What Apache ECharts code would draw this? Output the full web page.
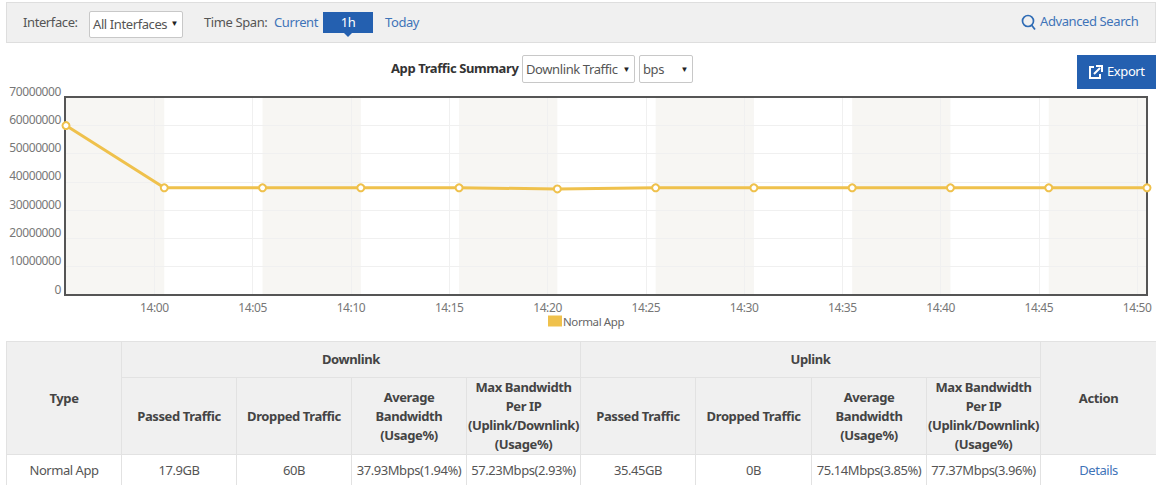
<!DOCTYPE html>
<html><head><meta charset="utf-8">
<script src="https://cdn.jsdelivr.net/npm/echarts@6/dist/echarts.min.js"></script>
<style>
html,body{margin:0;padding:0;background:#fff;overflow:hidden}
body{width:1156px;height:485px;position:relative;font-family:"Noto Sans",sans-serif;font-size:13px;color:#555;letter-spacing:-.4px}
#chart{position:absolute;left:0;top:0;width:1156px;height:340px}
.abs{position:absolute;white-space:nowrap}
#bar{position:absolute;left:6px;top:2px;width:1148px;height:39px;background:#f0f0f0;border:1px solid #dedede}
.sel{position:absolute;box-sizing:border-box;background:#fff;border:1px solid #c8c8c8;border-radius:2px;line-height:24px;padding-left:3px;white-space:nowrap;color:#555}
.sel i{position:absolute;right:4px;top:-1px;font-style:normal;font-size:8px;color:#222}
.link{color:#3f74b8}
#tb{position:absolute;left:6px;top:341px;width:1150px;border-collapse:collapse;table-layout:fixed;text-align:center}
#tb td,#tb th{border:1px solid #e2e2e2;padding:0;overflow:hidden;white-space:nowrap}
#tb th{background:#f0f0f0;color:#444;font-weight:700;line-height:19px}
#tb td{line-height:30px;letter-spacing:-.45px}
</style></head><body>
<div id="chart"></div>
<div id="bar"></div>
<div class="abs" style="left:23px;top:13px">Interface:</div>
<div class="sel" style="left:89px;top:11px;width:94px;height:27px">All Interfaces<i>▼</i></div>
<div class="abs" style="left:204px;top:13px">Time Span:</div>
<div class="abs link" style="left:274px;top:13px">Current</div>
<div class="abs" style="left:323px;top:12px;width:50px;height:21px;background:#2460b0;color:#fff;text-align:center;line-height:21px">1h</div>
<div class="abs" style="left:344px;top:33px;width:0;height:0;border:4px solid transparent;border-top-color:#2460b0;border-bottom:0"></div>
<div class="abs link" style="left:385px;top:13px">Today</div>
<svg class="abs" style="left:1021px;top:14px" width="16" height="18"><circle cx="7" cy="7" r="5.5" fill="none" stroke="#2f6cb5" stroke-width="1.7"/><line x1="10.5" y1="11" x2="14" y2="15.5" stroke="#2f6cb5" stroke-width="1.8"/></svg>
<div class="abs link" style="left:1040px;top:12px">Advanced Search</div>
<div class="abs" style="left:391px;top:59px;font-weight:700;color:#333">App Traffic Summary</div>
<div class="sel" style="left:522px;top:55px;width:113px;height:28px;line-height:26px">Downlink Traffic<i style="top:0">▼</i></div>
<div class="sel" style="left:639px;top:55px;width:54px;height:28px;line-height:26px">bps<i style="top:0">▼</i></div>
<div class="abs" style="left:1077px;top:55px;width:79px;height:34px;background:#2460b0;color:#fff;line-height:33px;text-indent:30px">Export
<svg style="position:absolute;left:11px;top:9px" width="16" height="16"><path d="M6 3H2v11h10v-4" fill="none" stroke="#fff" stroke-width="2"/><path d="M6 10l6-6M8 2h6v6" fill="none" stroke="#fff" stroke-width="2"/></svg></div>
<table id="tb"></table>
<script>
var seriesName = 'Normal App';
var axisStart = '13:55:27';
var sampleTimes = ['13:55:30','14:00:30','14:05:30','14:10:30','14:15:30','14:20:30','14:25:30','14:30:30','14:35:30','14:40:30','14:45:30','14:50:30'];
var trafficValues = [59900000,37900000,37900000,37900000,37900000,37500000,37900000,37900000,37900000,37900000,37900000,37900000];
var tickTimes = ['14:00:00','14:05:00','14:10:00','14:15:00','14:20:00','14:25:00','14:30:00','14:35:00','14:40:00','14:45:00','14:50:00'];
var groupHeaders = ['Type','Downlink','Uplink','Action'];
var metricHeaders = ['Passed Traffic','Dropped Traffic','Average<br>Bandwidth<br>(Usage%)','Max Bandwidth<br>Per IP<br>(Uplink/Downlink)<br>(Usage%)'];
var rowType = 'Normal App';
var downlinkRow = ['17.9GB','60B','37.93Mbps(1.94%)','57.23Mbps(2.93%)'];
var uplinkRow = ['35.45GB','0B','75.14Mbps(3.85%)','77.37Mbps(3.96%)'];
var rowAction = 'Details';

function toSec(s){var p=s.split(':');return (+p[0])*3600+(+p[1])*60+(+p[2]);}
var times = sampleTimes.map(toSec);
var ticks = tickTimes.map(toSec);
var bands = [];
for (var i=0;i+1<times.length;i+=2) bands.push([{xAxis:times[i]},{xAxis:times[i+1]}]);
var pad=function(n){return (n<10?'0':'')+n;};
var chart = echarts.init(document.getElementById('chart'),null,{renderer:'svg'});
chart.setOption({
  animation:false,
  textStyle:{fontFamily:'"Noto Sans",sans-serif'},
  grid:{left:65,right:9,top:97,height:198,show:true,borderColor:'#555',borderWidth:2,z:3},
  legend:{show:true,left:548,top:315,padding:0,itemWidth:14,itemHeight:11,icon:'rect',
    itemStyle:{color:'#efc14c',borderWidth:0},
    textStyle:{color:'#666',fontSize:11.5,padding:[0,0,0,-4],letterSpacing:-0.6},data:[seriesName]},
  xAxis:{type:'value',min:toSec(axisStart),max:times[times.length-1],z:2,
    axisLine:{show:false},axisTick:{show:false,customValues:ticks},
    axisLabel:{customValues:ticks,color:'#777',fontSize:12,margin:6,hideOverlap:false,letterSpacing:-0.6,
      formatter:function(v){return pad(Math.floor(v/3600))+':'+pad(Math.floor(v%3600/60));}},
    splitLine:{show:true,lineStyle:{color:'#f0f0f0',width:1}}},
  yAxis:{type:'value',min:0,max:70000000,interval:10000000,z:2,
    axisLine:{show:false},axisTick:{show:false},
    axisLabel:{color:'#777',fontSize:12,margin:4,letterSpacing:-0.9,verticalAlign:'bottom',
      verticalAlignMinLabel:'bottom',verticalAlignMaxLabel:'bottom',lineHeight:12,
      formatter:function(v){return String(v);}},
    splitLine:{show:true,lineStyle:{color:'#f0f0f0',width:1}}},
  series:[{name:seriesName,type:'line',z:4,clip:false,data:times.map(function(t,i){return [t,trafficValues[i]];}),
    symbol:'circle',symbolSize:7,showSymbol:true,showAllSymbol:true,
    lineStyle:{color:'#efc14c',width:3},
    itemStyle:{color:'#fff',borderColor:'#efc14c',borderWidth:2},
    markArea:{silent:true,z:1,itemStyle:{color:'#f7f6f3'},data:bands}}]
});
var c=[115,115,115,115,114,115,116,115,114,116];
var h='<colgroup>'+c.map(function(w){return '<col style="width:'+w+'px">';}).join('')+'</colgroup>';
h+='<tr style="height:36px"><th rowspan="2">'+groupHeaders[0]+'</th><th colspan="4">'+groupHeaders[1]+'</th><th colspan="4">'+groupHeaders[2]+'</th><th rowspan="2">'+groupHeaders[3]+'</th></tr>';
h+='<tr style="height:77px">'+metricHeaders.concat(metricHeaders).map(function(m){return '<th>'+m+'</th>';}).join('')+'</tr>';
h+='<tr style="height:31px"><td>'+rowType+'</td>'+downlinkRow.concat(uplinkRow).map(function(v){return '<td>'+v+'</td>';}).join('')+'<td class="link">'+rowAction+'</td></tr>';
document.getElementById('tb').innerHTML=h;
</script>
</body></html>
